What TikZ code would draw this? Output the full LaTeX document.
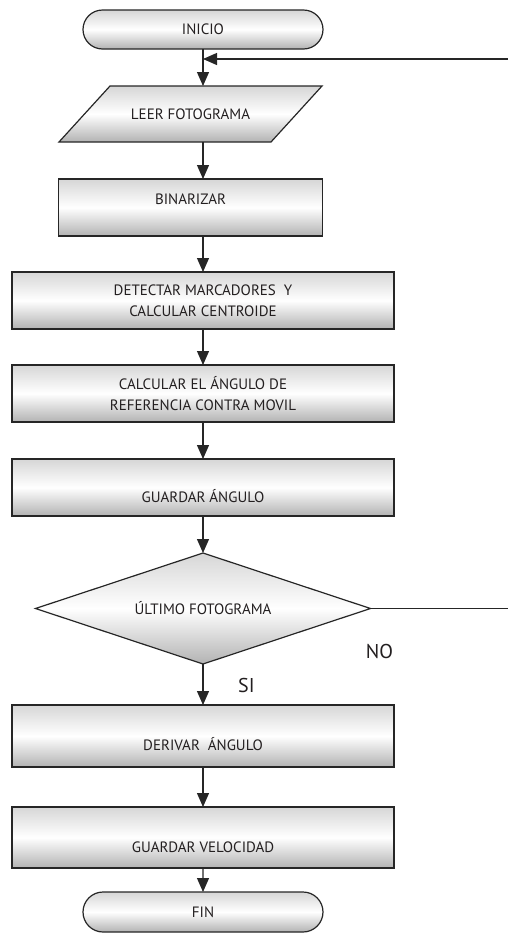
\documentclass[tikz,border=0pt]{standalone}
\usepackage{fontspec}
\setmainfont{PT Sans}
\usetikzlibrary{arrows.meta,positioning,shapes.geometric,shapes.misc,backgrounds}
\definecolor{FlowInk}{HTML}{231F20}
\definecolor{FlowLine}{HTML}{262626}
\tikzset{
  boxshade/.style={top color=black!16, bottom color=black!30, middle color=white},
  shadedbox/.style={draw=FlowLine, line width=1.2pt, outer sep=0pt, boxshade,
                    font=\fontsize{15}{21}\selectfont\color{FlowInk},
                    align=center, inner sep=0pt},
  procbox/.style={shadedbox, rectangle, minimum width=382pt, minimum height=57pt},
  termbox/.style={shadedbox, rounded rectangle, minimum width=240pt, minimum height=39pt},
  iobox/.style={rectangle, outer sep=0pt, inner sep=0pt, minimum width=212pt,
                minimum height=56pt, font=\fontsize{15}{21}\selectfont\color{FlowInk}},
  decbox/.style={shadedbox, diamond, aspect=3, minimum width=335pt, minimum height=111pt},
  arrow/.style={-{Triangle[length=14pt,width=12pt]}, line width=1.2pt, FlowLine},
  line/.style={line width=1.2pt, FlowLine},
  lbl/.style={font=\fontsize{20}{24}\selectfont\color{FlowInk}, inner sep=0pt},
}
\begin{document}
\begin{tikzpicture}[x=1pt, y=-1pt, node distance=37pt]
  \useasboundingbox (0,0) rectangle (508,935);

  \node[termbox] (inicio) at (203,29.5) {INICIO};
  \node[iobox, below=of inicio, xshift=-12.5pt] (leer) {LEER FOTOGRAMA};
  \node[procbox, minimum width=264pt, text depth=17pt, below=of leer] (binarizar) {BINARIZAR};
  \node[procbox, below=36pt of binarizar, xshift=12.5pt] (detectar)
       {DETECTAR MARCADORES~ Y\\CALCULAR CENTROIDE};
  \node[procbox, below=36pt of detectar] (calcular)
       {CALCULAR EL ÁNGULO DE\\REFERENCIA CONTRA MOVIL};
  \node[procbox, text height=30pt, below=of calcular] (guardarang) {GUARDAR ÁNGULO};
  \node[decbox, below=of guardarang] (ultimo) {ÚLTIMO FOTOGRAMA};
  \node[procbox, minimum height=62pt, text height=30pt, below=41pt of ultimo] (derivar)
       {DERIVAR~ ÁNGULO};
  \node[procbox, minimum height=61pt, text height=30pt, below=40pt of derivar] (guardarvel)
       {GUARDAR VELOCIDAD};
  \node[termbox, minimum height=40pt, below=24pt of guardarvel] (fin) {FIN};

  % slanted input box behind its text
  \begin{scope}[on background layer]
    \path[draw=FlowLine, line width=1.2pt, boxshade]
      ([xshift=-25.5pt]leer.south west) -- ([xshift=-25.5pt]leer.south east)
      -- ([xshift=25.5pt]leer.north east) -- ([xshift=25.5pt]leer.north west) -- cycle;
  \end{scope}

  \draw[arrow] (inicio.south) -- (inicio.south |- leer.north);
  \draw[arrow] (inicio.south |- leer.south) -- (inicio.south |- binarizar.north);
  \draw[arrow] (inicio.south |- binarizar.south) -- (detectar);
  \draw[arrow] (detectar) -- (calcular);
  \draw[arrow] (calcular) -- (guardarang);
  \draw[arrow] (guardarang) -- (ultimo);
  \draw[arrow] (ultimo) -- (derivar);
  \draw[arrow] (derivar) -- (guardarvel);
  \draw[arrow] (guardarvel) -- (fin);

  % loop back from the decision
  \coordinate (loopin) at (508,59);
  \draw[arrow] (loopin) -- (loopin -| inicio.south);
  \draw[line] (ultimo.east) -- (ultimo.east -| loopin);
  \node[lbl, below=36pt of ultimo.east, xshift=9pt] (no) {NO};
  \node[lbl, below right=14pt and 35pt of ultimo.south] (si) {SI};

\end{tikzpicture}
\end{document}
